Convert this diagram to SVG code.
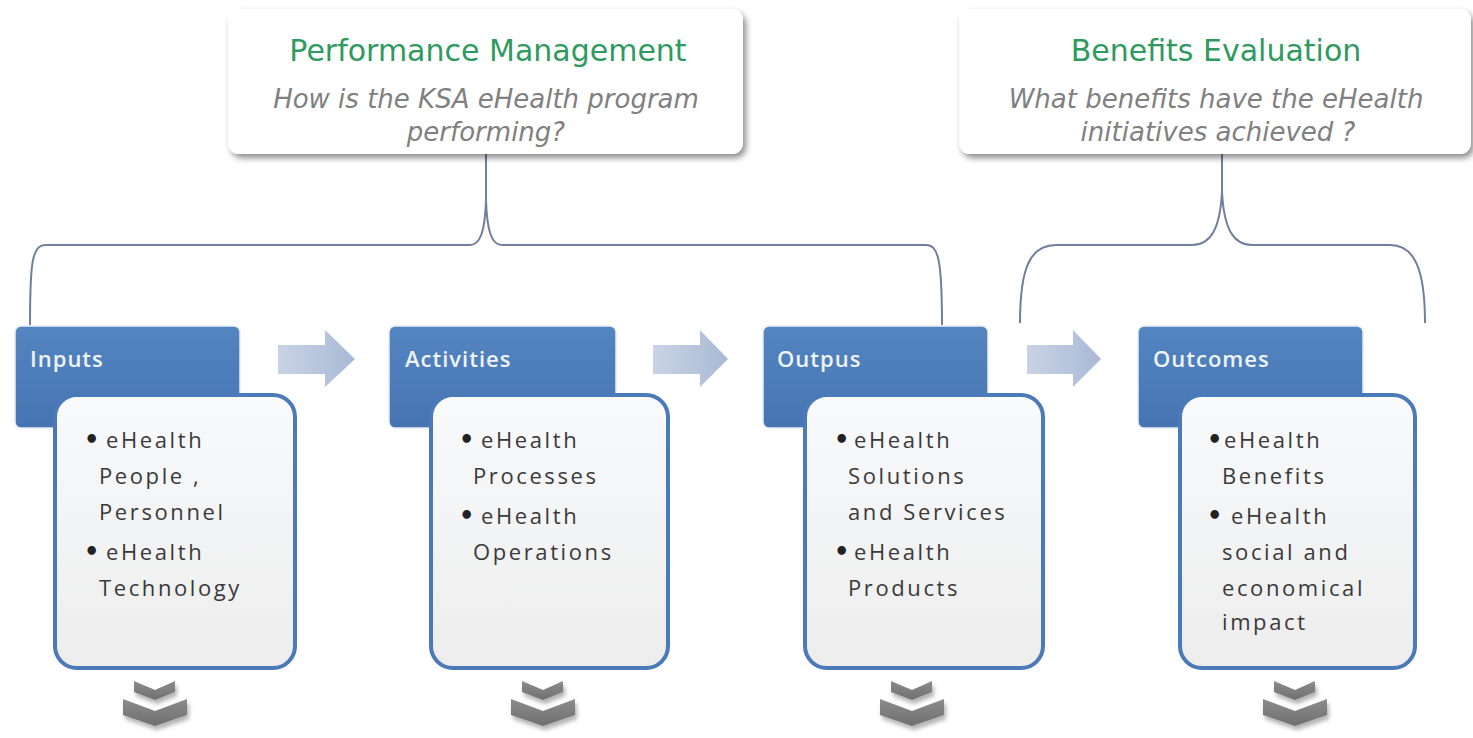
<svg xmlns="http://www.w3.org/2000/svg" width="1473" height="738" viewBox="0 0 1473 738">
<defs>
  <filter id="shadow" x="-10%" y="-20%" width="125%" height="150%">
    <feDropShadow dx="3" dy="4" stdDeviation="3" flood-color="#000" flood-opacity="0.45"/>
  </filter>
  <filter id="chshadow" x="-30%" y="-30%" width="160%" height="180%">
    <feDropShadow dx="2" dy="4" stdDeviation="2" flood-color="#000" flood-opacity="0.3"/>
  </filter>
  <linearGradient id="hdr" x1="0" y1="0" x2="0" y2="1">
    <stop offset="0" stop-color="#5385c1"/>
    <stop offset="1" stop-color="#4674b2"/>
  </linearGradient>
  <linearGradient id="card" x1="0" y1="0" x2="0" y2="1">
    <stop offset="0" stop-color="#f9fafc"/>
    <stop offset="1" stop-color="#ededed"/>
  </linearGradient>
  <linearGradient id="arr" x1="0" y1="0" x2="1" y2="0">
    <stop offset="0" stop-color="#c9d3e5"/>
    <stop offset="1" stop-color="#a9b9d5"/>
  </linearGradient>
  <linearGradient id="chev" x1="0" y1="0" x2="0" y2="1">
    <stop offset="0" stop-color="#8c8c8c"/>
    <stop offset="1" stop-color="#6f6f6f"/>
  </linearGradient>
  <style>
    .callout { fill:#ffffff; filter:url(#shadow); }
    .title { font-family:"DejaVu Sans",Verdana,sans-serif; font-size:30px; fill:#2f9a60; text-anchor:middle; }
    .sub { font-family:"DejaVu Sans",Verdana,sans-serif; font-style:italic; font-size:26px; fill:#808080; text-anchor:middle; }
    .hdr { fill:url(#hdr); stroke:#e6edf6; stroke-width:1.5; }
    .hlabel { font-family:"Open Sans",sans-serif; font-weight:600; font-size:22px; fill:#eef3fa; letter-spacing:1px; }
    .card { fill:url(#card); stroke:#4a7ab8; stroke-width:4; }
    .item { font-family:"Open Sans",sans-serif; font-size:22px; fill:#3a3a3a; letter-spacing:2.6px; }
    .b { font-family:"DejaVu Sans",sans-serif; font-size:24px; font-weight:700; fill:#222222; letter-spacing:0; }
    .brace { fill:none; stroke:#6f7f9c; stroke-width:2; }
    .flow { fill:url(#arr); }
    .chev { fill:url(#chev); filter:url(#chshadow); }
  </style>
</defs>
<rect width="1473" height="738" fill="#ffffff"/>

<g id="connectors">
  <path class="brace" d="M30 325 C30 262 32 245 46 245 L470 245 C480 245 485 232 486 200 L486 154 M486 200 C487 232 492 245 502 245 L926 245 C938 245 942 258 942 325"/>
  <path class="brace" d="M1020 323 C1020 268 1030 245 1056 245 L1192 245 C1210 245 1220 230 1222 192 L1222 154 M1222 192 C1224 230 1234 245 1252 245 L1390 245 C1414 245 1425 268 1425 323"/>
  <path class="flow" d="M278 345 H325 V330 L355 359 L325 387 V374 H278 Z"/>
  <path class="flow" d="M653 345 H700 V330 L728 359 L700 387 V374 H653 Z"/>
  <path class="flow" d="M1027 345 H1073 V330 L1101 359 L1073 387 V374 H1027 Z"/>
</g>

<g id="performance-management">
  <rect class="callout" x="228" y="9" width="515" height="145" rx="11"/>
  <text class="title" x="488" y="61">Performance Management</text>
  <text class="sub" x="486" y="108">How is the KSA eHealth program</text>
  <text class="sub" x="486" y="141">performing?</text>
</g>

<g id="benefits-evaluation">
  <rect class="callout" x="959" y="9" width="512" height="145" rx="11"/>
  <text class="title" x="1216" y="61">Benefits Evaluation</text>
  <text class="sub" x="1216" y="108">What benefits have the eHealth</text>
  <text class="sub" x="1218" y="141">initiatives achieved ?</text>
</g>

<g id="inputs">
  <rect class="hdr" x="15" y="326" width="225" height="102" rx="6"/>
  <text class="hlabel" x="30" y="367">Inputs</text>
  <rect class="card" x="55" y="395" width="240" height="273" rx="22"/>
  <text class="item" x="84" y="448"><tspan class="b">•</tspan><tspan x="106">eHealth</tspan></text>
  <text class="item" x="99" y="484">People ,</text>
  <text class="item" x="99" y="520">Personnel</text>
  <text class="item" x="84" y="560"><tspan class="b">•</tspan><tspan x="106">eHealth</tspan></text>
  <text class="item" x="99" y="596">Technology</text>
  <path class="chev" d="M134 681 L155 690 L175 681 L175 692 L155 700 L134 692 Z"/>
  <path class="chev" d="M123 699 L155 711 L187 699 L187 715 L155 726 L123 715 Z"/>
</g>

<g id="activities">
  <rect class="hdr" x="389" y="326" width="227" height="102" rx="6"/>
  <text class="hlabel" x="405" y="367">Activities</text>
  <rect class="card" x="431" y="395" width="237" height="273" rx="22"/>
  <text class="item" x="459" y="448"><tspan class="b">•</tspan><tspan x="481">eHealth</tspan></text>
  <text class="item" x="473" y="484">Processes</text>
  <text class="item" x="459" y="524"><tspan class="b">•</tspan><tspan x="481">eHealth</tspan></text>
  <text class="item" x="473" y="560">Operations</text>
  <path class="chev" d="M522 681 L543 690 L563 681 L563 692 L543 700 L522 692 Z"/>
  <path class="chev" d="M511 699 L543 711 L575 699 L575 715 L543 726 L511 715 Z"/>
</g>

<g id="outputs">
  <rect class="hdr" x="763" y="326" width="225" height="102" rx="6"/>
  <text class="hlabel" x="777" y="367">Outpus</text>
  <rect class="card" x="805" y="395" width="238" height="273" rx="22"/>
  <text class="item" x="834" y="448"><tspan class="b">•</tspan><tspan x="854">eHealth</tspan></text>
  <text class="item" x="848" y="484">Solutions</text>
  <text class="item" x="848" y="520">and Services</text>
  <text class="item" x="834" y="560"><tspan class="b">•</tspan><tspan x="854">eHealth</tspan></text>
  <text class="item" x="848" y="596">Products</text>
  <path class="chev" d="M891 681 L912 690 L932 681 L932 692 L912 700 L891 692 Z"/>
  <path class="chev" d="M880 699 L912 711 L944 699 L944 715 L912 726 L880 715 Z"/>
</g>

<g id="outcomes">
  <rect class="hdr" x="1138" y="326" width="225" height="102" rx="6"/>
  <text class="hlabel" x="1153" y="367">Outcomes</text>
  <rect class="card" x="1180" y="395" width="235" height="273" rx="22"/>
  <text class="item" x="1207" y="448"><tspan class="b">•</tspan><tspan x="1224">eHealth</tspan></text>
  <text class="item" x="1222" y="484">Benefits</text>
  <text class="item" x="1207" y="524"><tspan class="b">•</tspan><tspan x="1231">eHealth</tspan></text>
  <text class="item" x="1222" y="560">social and</text>
  <text class="item" x="1222" y="596">economical</text>
  <text class="item" x="1222" y="630">impact</text>
  <path class="chev" d="M1274 681 L1295 690 L1315 681 L1315 692 L1295 700 L1274 692 Z"/>
  <path class="chev" d="M1263 699 L1295 711 L1327 699 L1327 715 L1295 726 L1263 715 Z"/>
</g>
</svg>
